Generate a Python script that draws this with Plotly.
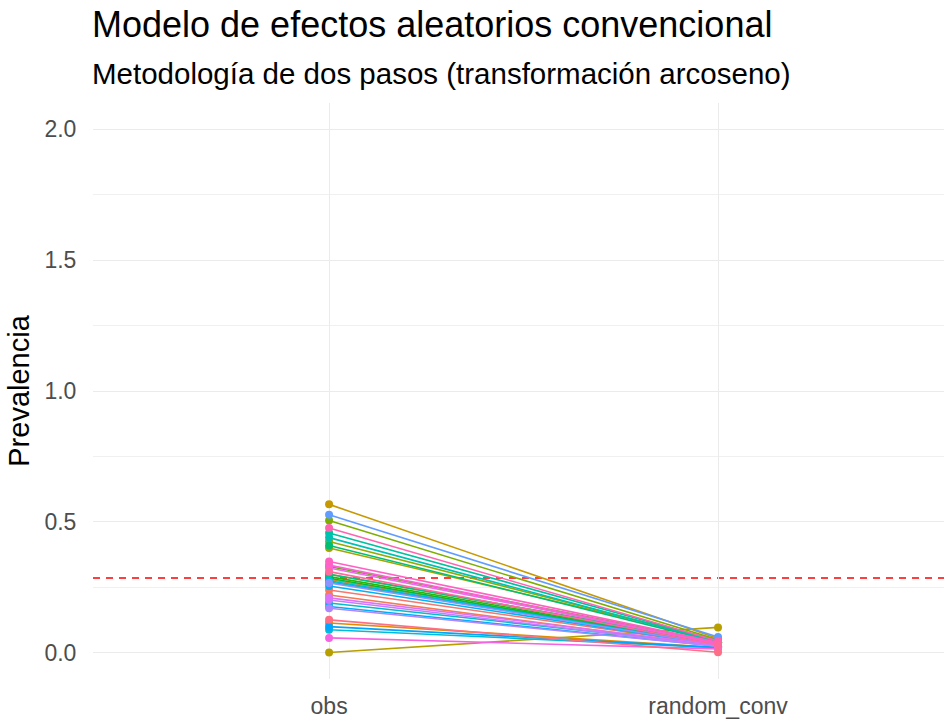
import math
import plotly.graph_objects as go

# Prevalence per study: observed vs. conventional random-effects estimate
momentos = ["obs", "random_conv"]
estudios = [f"E{i:02d}" for i in range(1, 37)]
prev_obs = [
    0.240, 0.221, 0.280, 0.114, 0.300, 0.567, 0.001, 0.400, 0.425, 0.505,
    0.330, 0.291, 0.285, 0.270, 0.410, 0.300, 0.458, 0.440, 0.190, 0.088,
    0.275, 0.255, 0.177, 0.100, 0.527, 0.267, 0.170, 0.202, 0.210, 0.324,
    0.057, 0.335, 0.349, 0.477, 0.310, 0.126,
]
prev_random = [
    0.030, 0.025, 0.035, 0.020, 0.040, 0.055, 0.097, 0.050, 0.045, 0.050,
    0.040, 0.035, 0.030, 0.035, 0.040, 0.040, 0.045, 0.040, 0.030, 0.020,
    0.030, 0.030, 0.025, 0.020, 0.060, 0.030, 0.025, 0.025, 0.030, 0.035,
    0.015, 0.035, 0.040, 0.045, 0.030, 0.002,
]
prev_media = 0.286


def hue_pal(n, l=65.0, c=100.0, h0=15.0, h1=375.0):
    """ggplot2-style evenly spaced HCL hues converted to sRGB hex."""
    xn, yn, zn = 95.047, 100.0, 108.883
    den = xn + 15 * yn + 3 * zn
    un, vn = 4 * xn / den, 9 * yn / den
    out = []
    for i in range(n):
        h = math.radians(h0 + (h1 - h0) * i / n)
        u, v = c * math.cos(h), c * math.sin(h)
        y = yn * ((l + 16) / 116) ** 3
        up, vp = u / (13 * l) + un, v / (13 * l) + vn
        x = 9 * y * up / (4 * vp)
        z = -x / 3 - 5 * y + 3 * y / vp
        x, y, z = x / 100, y / 100, z / 100
        r = 3.2404542 * x - 1.5371385 * y - 0.4985314 * z
        g = -0.9692660 * x + 1.8760108 * y + 0.0415560 * z
        b = 0.0556434 * x - 0.2040259 * y + 1.0572252 * z

        def gam(t):
            t = min(max(t, 0.0), 1.0)
            return 12.92 * t if t <= 0.0031308 else 1.055 * t ** (1 / 2.4) - 0.055

        out.append("#%02X%02X%02X" % tuple(round(255 * gam(t)) for t in (r, g, b)))
    return out


colores = hue_pal(len(estudios))

fig = go.Figure()

fig.add_hline(y=prev_media, line=dict(color="#FF0000", width=1.6, dash="7px,6px"), layer="below")

for est, o, r, col in zip(estudios, prev_obs, prev_random, colores):
    fig.add_trace(go.Scatter(
        x=momentos, y=[o, r], mode="lines", name=est,
        line=dict(color=col, width=1.6), showlegend=False, hoverinfo="skip",
    ))
for est, o, r, col in zip(estudios, prev_obs, prev_random, colores):
    fig.add_trace(go.Scatter(
        x=momentos, y=[o, r], mode="markers", name=est,
        marker=dict(color=col, size=8), showlegend=False,
    ))

W, H = 944, 719
mt, mb, ml, mr = 103, 40, 93, 0
ph = H - mt - mb


def ypaper(px):
    return 1 + (mt - px) / ph


grid = "#EBEBEB"
fig.update_layout(
    width=W, height=H,
    margin=dict(l=ml, r=mr, t=mt, b=mb, autoexpand=False),
    paper_bgcolor="white", plot_bgcolor="white",
    font=dict(family="Liberation Sans, Arial, sans-serif", color="#000000"),
    xaxis=dict(
        type="category", range=[-0.607, 1.581], automargin=False,
        showgrid=True, gridcolor=grid, gridwidth=1.4,
        zeroline=False, showline=False,
        ticks="outside", ticklen=6, tickcolor="rgba(0,0,0,0)",
        tickfont=dict(size=23, color="#4D4D4D"),
    ),
    yaxis=dict(
        range=[-0.1, 2.1], tickmode="array", automargin=False,
        tickvals=[0, 0.5, 1.0, 1.5, 2.0], ticktext=["0.0", "0.5", "1.0", "1.5", "2.0"],
        showgrid=True, gridcolor=grid, gridwidth=1.4,
        minor=dict(tickvals=[0.25, 0.75, 1.25, 1.75], showgrid=True, gridcolor="#F0F0F0", gridwidth=1),
        zeroline=False, showline=False,
        ticks="outside", ticklen=11, tickcolor="rgba(0,0,0,0)",
        tickfont=dict(size=23, color="#4D4D4D"),
        title=dict(text="Prevalencia", font=dict(size=29, color="#000000"), standoff=6),
    ),
    annotations=[
        dict(text="Modelo de efectos aleatorios convencional", xref="paper", yref="paper",
             x=0, y=ypaper(25), xanchor="left", yanchor="middle", showarrow=False,
             font=dict(size=36, color="#000000"), xshift=-3),
        dict(text="Metodología de dos pasos (transformación arcoseno)", xref="paper", yref="paper",
             x=0, y=ypaper(74), xanchor="left", yanchor="middle", showarrow=False,
             font=dict(size=29.5, color="#000000"), xshift=-3),
    ],
)

fig.write_html("out.html")
